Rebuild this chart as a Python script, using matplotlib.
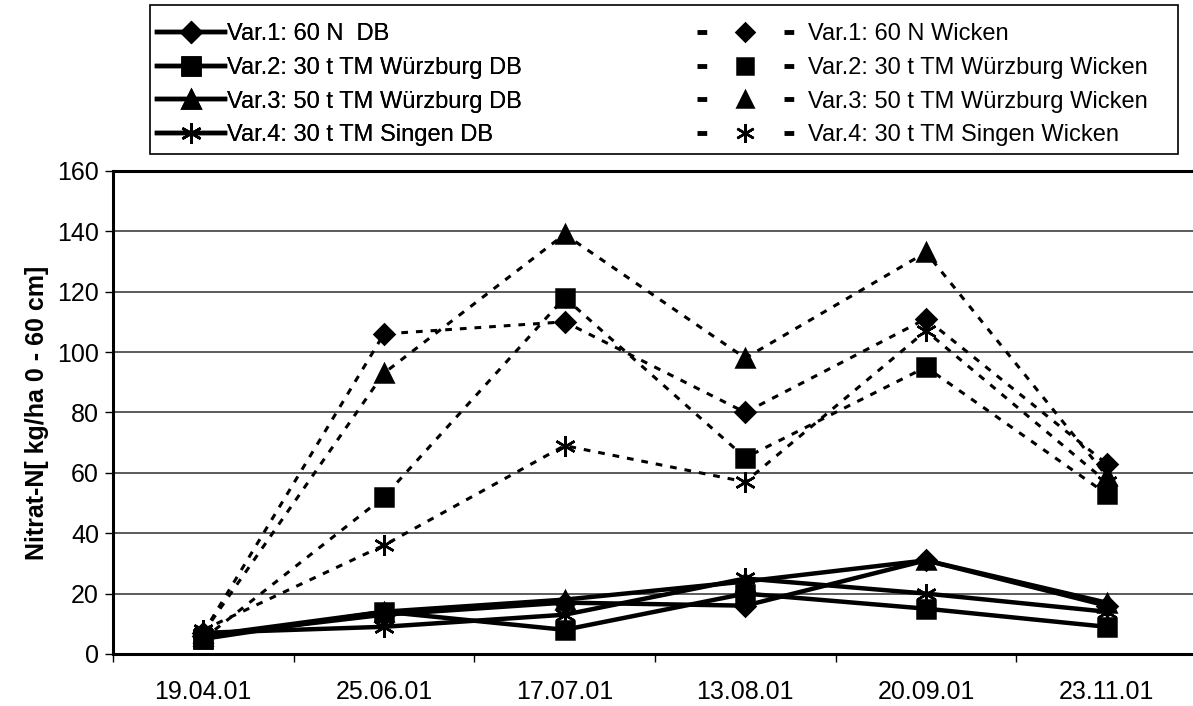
import numpy as np
import matplotlib
matplotlib.use('Agg')
import matplotlib.pyplot as plt
from matplotlib.patches import Rectangle
from matplotlib.lines import Line2D

plt.rcParams['font.family'] = ['Liberation Sans', 'DejaVu Sans']

dates = ['19.04.01', '25.06.01', '17.07.01', '13.08.01', '20.09.01', '23.11.01']

# DB (solid lines)
var1_db = [6, 13, 17, 16, 31, 16]
var2_db = [5, 14, 8, 20, 15, 9]
var3_db = [6, 14, 18, 24, 31, 17]
var4_db = [7, 9, 13, 25, 20, 14]

# Wicken (dashed lines)
var1_wi = [7, 106, 110, 80, 111, 63]
var2_wi = [5, 52, 118, 65, 95, 53]
var3_wi = [7, 93, 139, 98, 133, 59]
var4_wi = [8, 36, 69, 57, 107, 57]

labels_db = ['Var.1: 60 N  DB', 'Var.2: 30 t TM Würzburg DB',
             'Var.3: 50 t TM Würzburg DB', 'Var.4: 30 t TM Singen DB']
labels_wi = ['Var.1: 60 N Wicken', 'Var.2: 30 t TM Würzburg Wicken',
             'Var.3: 50 t TM Würzburg Wicken', 'Var.4: 30 t TM Singen Wicken']

markers = ['D', 's', '^', (6, 2, 0)]
msizes = [10.5, 13, 13.5, 15]

x = np.arange(len(dates))

fig = plt.figure(figsize=(11.93, 7.06), dpi=100)
ax = fig.add_axes([0.0947, 0.0737, 0.9086, 0.6843])

dash = (0, (2.2, 2.6))
h_db, h_wi = [], []
for vals, lab, m, ms in zip([var1_db, var2_db, var3_db, var4_db], labels_db, markers, msizes):
    ln, = ax.plot(x, vals, color='black', lw=3.2, marker=m, ms=ms, mec='black', mfc='black',
                  mew=1.8, label=lab, zorder=3)
    h_db.append(ln)
for vals, lab, m, ms in zip([var1_wi, var2_wi, var3_wi, var4_wi], labels_wi, markers, msizes):
    ax.plot(x, vals, color='black', lw=2.2, ls=dash, marker=m, ms=ms, mec='black', mfc='black',
            mew=1.8, label=lab, zorder=3)
    # legend proxy: "-  marker  -" look
    h_wi.append(Line2D([], [], color='black', lw=3.5, ls=(0, (2.0, 15.9)), marker=m, ms=ms * 0.9,
                       mec='black', mfc='black', mew=1.8))

ax.set_xlim(-0.5, 5.5)
ax.set_ylim(0, 160)
ax.set_yticks(np.arange(0, 161, 20))
ax.set_xticks(x)
ax.set_xticklabels(dates)
ax.set_xticks(np.arange(-0.5, 6, 1), minor=True)
ax.tick_params(axis='x', which='major', length=0, labelsize=18, pad=19)
ax.tick_params(axis='x', which='minor', length=6, width=1, direction='out')
ax.tick_params(axis='y', length=6, width=1, direction='out', labelsize=18, pad=4)
ax.yaxis.grid(True, color='#404040', lw=1.2)
ax.set_axisbelow(True)
for s in ['left', 'bottom', 'top']:
    ax.spines[s].set_linewidth(2.2)
ax.spines['right'].set_visible(False)
ax.set_ylabel('Nitrat-N[ kg/ha 0 - 60 cm]', fontsize=18, fontweight='bold', labelpad=6)

# legend frame
W, H = 1193.0, 706.0
fig.patches.append(Rectangle((150 / W, 1 - 154 / H), (1178 - 150) / W, (154 - 5) / H,
                             transform=fig.transFigure, fill=False, ec='black', lw=1.2))

common = dict(loc='upper left', frameon=False, fontsize=17, labelspacing=0.5,
              borderpad=0, borderaxespad=0)
leg1 = fig.legend(h_db, labels_db, bbox_to_anchor=(157 / W, 1 - 23 / H),
                  handlelength=2.9, handletextpad=0.05, **common)
leg2 = fig.legend(h_wi, labels_wi, bbox_to_anchor=(697 / W, 1 - 23 / H),
                  handlelength=4.1, handletextpad=0.6, **common)
fig.add_artist(leg1)

plt.savefig('out.png', dpi=100)
